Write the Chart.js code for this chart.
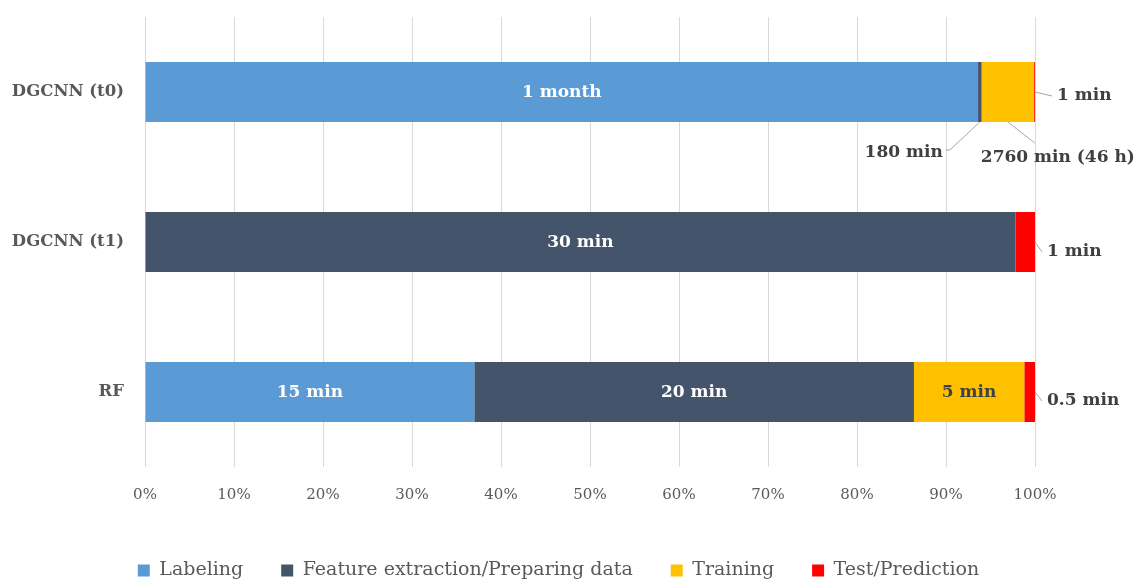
<!DOCTYPE html>
<html>
<head>
<meta charset="utf-8">
<script src="https://cdn.jsdelivr.net/npm/chart.js@4.4.1/dist/chart.umd.min.js"></script>
<style>
  html, body { margin: 0; padding: 0; background: #fff; }
  #wrap { width: 1134px; height: 583px; }
</style>
</head>
<body>
<div id="wrap"><canvas id="timeChart"></canvas></div>
<script>
// Chart data (share of total time, %)
const categories = ['DGCNN (t0)', 'DGCNN (t1)', 'RF'];
const seriesNames = ['Labeling', 'Feature extraction/Preparing data', 'Training', 'Test/Prediction'];
const labeling = [93.6, 0, 37.0];
const featureExtraction = [0.4, 97.8, 49.4];
const training = [5.9, 0, 12.4];
const testPrediction = [0.1, 2.2, 1.2];
const xTickValues = [0, 10, 20, 30, 40, 50, 60, 70, 80, 90, 100];

// Time labels shown on the bars
const labelingText = ['1 month', '', '15 min'];
const featureText = ['180 min', '30 min', '20 min'];
const trainingText = ['2760 min (46 h)', '', '5 min'];
const testText = ['1 min', '1 min', '0.5 min'];

const colors = ['#5B9BD5', '#44546A', '#FFC000', '#FF0000'];
const insideTextColors = ['#ffffff', '#ffffff', '#404040', '#ffffff'];
const FONT = '"DejaVu Serif", serif';

// Labels placed outside the bar with a leader line
// anchor: 'end' = right edge of segment, 'bottom' = bottom middle of segment
const callouts = [
  { ds: 3, idx: 0, anchor: 'end', dx: 17, dy: 4, align: 'left' },
  { ds: 1, idx: 0, anchor: 'bottom', dx: -30, dy: 28, align: 'right' },
  { ds: 2, idx: 0, anchor: 'bottom', dx: 27, dy: 21, align: 'below' },
  { ds: 3, idx: 1, anchor: 'end', dx: 7, dy: 10, align: 'left' },
  { ds: 3, idx: 2, anchor: 'end', dx: 7, dy: 9, align: 'left' },
];

const barTexts = [labelingText, featureText, trainingText, testText];

const barLabelsPlugin = {
  id: 'barLabels',
  // legend sits centred under the plot area rather than the whole canvas
  afterLayout(chart) {
    chart.legend.left += 82;
  },
  afterDatasetsDraw(chart) {
    const ctx = chart.ctx;
    ctx.save();
    ctx.font = 'bold 17px ' + FONT;
    ctx.textBaseline = 'middle';

    // labels inside segments
    barTexts.forEach((texts, ds) => {
      const meta = chart.getDatasetMeta(ds);
      texts.forEach((txt, idx) => {
        if (!txt) return;
        if (callouts.some((c) => c.ds === ds && c.idx === idx)) return;
        const el = meta.data[idx];
        ctx.fillStyle = insideTextColors[ds];
        ctx.textAlign = 'center';
        ctx.fillText(txt, (el.x + el.base) / 2, el.y + 1);
      });
    });

    // callout labels
    callouts.forEach((c) => {
      const el = chart.getDatasetMeta(c.ds).data[c.idx];
      const txt = barTexts[c.ds][c.idx];
      let ax, ay;
      if (c.anchor === 'end') {
        ax = el.x; ay = el.y;
      } else {
        ax = (el.x + el.base) / 2; ay = el.y + el.height / 2;
      }
      const ex = ax + c.dx, ey = ay + c.dy;
      ctx.strokeStyle = '#A6A6A6';
      ctx.lineWidth = 1;
      ctx.beginPath();
      ctx.moveTo(ax, ay);
      ctx.lineTo(ex, ey);
      if (c.align === 'right') ctx.lineTo(ex - 4, ey);
      ctx.stroke();

      ctx.fillStyle = '#404040';
      if (c.align === 'left') {
        ctx.textAlign = 'left';
        ctx.fillText(txt, ex + 5, ey);
      } else if (c.align === 'right') {
        ctx.textAlign = 'right';
        ctx.fillText(txt, ex - 7, ey + 3);
      } else {
        ctx.textAlign = 'center';
        ctx.fillText(txt, ex + 23, ey + 15);
      }
    });
    ctx.restore();
  },
};

const seriesValues = [labeling, featureExtraction, training, testPrediction];

const timeChart = new Chart(document.getElementById('timeChart'), {
  type: 'bar',
  data: {
    labels: categories,
    datasets: seriesNames.map((name, i) => ({
      label: name,
      data: seriesValues[i],
      backgroundColor: colors[i],
      borderWidth: 0,
      barPercentage: 0.4,
      categoryPercentage: 1,
    })),
  },
  options: {
    indexAxis: 'y',
    responsive: true,
    maintainAspectRatio: false,
    animation: false,
    layout: {
      padding: { left: 0, right: 99, top: 17, bottom: -7 },
    },
    scales: {
      x: {
        stacked: true,
        min: 0,
        max: 100,
        afterBuildTicks: (axis) => {
          axis.ticks = xTickValues.map((v) => ({ value: v }));
        },
        afterFit: (axis) => {
          axis.height = 56;
        },
        grid: { color: '#D9D9D9', drawTicks: false },
        border: { display: false },
        ticks: {
          padding: 19,
          color: '#595959',
          font: { family: FONT, size: 15 },
          callback: (v) => v + '%',
        },
      },
      y: {
        stacked: true,
        afterFit: (axis) => {
          axis.width = 145;
          axis.paddingTop = 0;
          axis.paddingBottom = 0;
        },
        grid: { display: false, drawTicks: false },
        border: { display: false },
        ticks: {
          padding: 21,
          color: '#595959',
          font: { family: FONT, size: 16.5, weight: 'bold' },
        },
      },
    },
    plugins: {
      legend: {
        position: 'bottom',
        labels: {
          boxWidth: 12,
          boxHeight: 12,
          padding: 38,
          color: '#595959',
          font: { family: FONT, size: 19 },
        },
      },
      tooltip: { enabled: false },
    },
  },
  plugins: [barLabelsPlugin],
});
</script>
</body>
</html>
